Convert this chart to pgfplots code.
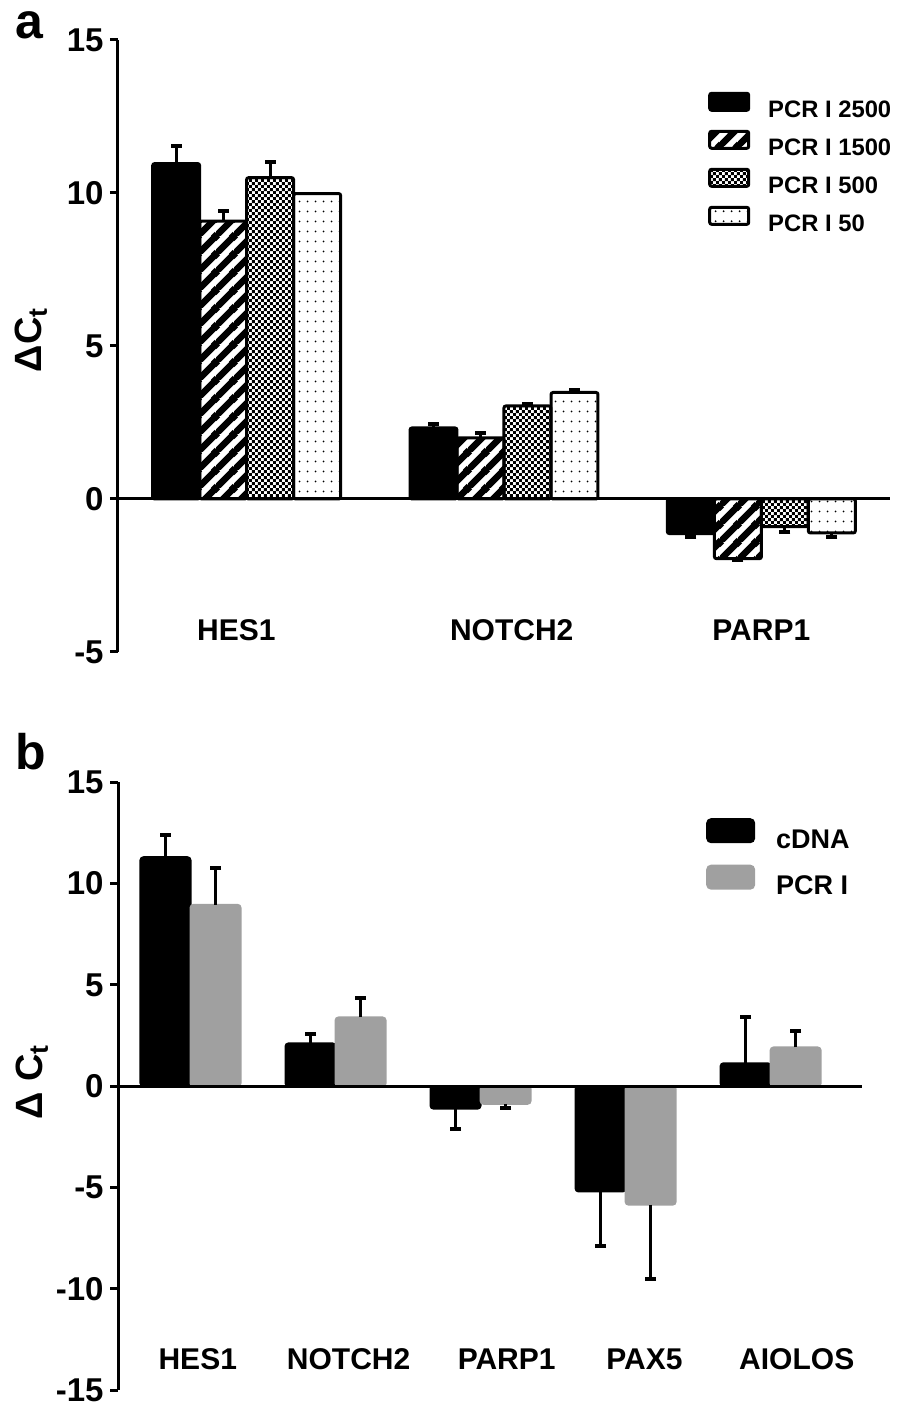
\documentclass[border=0pt]{standalone}
\usepackage{pgfplots}
\pgfplotsset{compat=1.18}
\usepackage{fontspec}
\setmainfont{Liberation Sans}
\usetikzlibrary{patterns}

\pgfdeclarepatternformonly{wstripes}{\pgfqpoint{0pt}{0pt}}{\pgfqpoint{9pt}{9pt}}{\pgfqpoint{9pt}{9pt}}{%
  \pgfsetlinewidth{3.4pt}%
  \pgfpathmoveto{\pgfqpoint{-1pt}{-1pt}}\pgfpathlineto{\pgfqpoint{10pt}{10pt}}%
  \pgfpathmoveto{\pgfqpoint{-1pt}{8pt}}\pgfpathlineto{\pgfqpoint{1pt}{10pt}}%
  \pgfpathmoveto{\pgfqpoint{8pt}{-1pt}}\pgfpathlineto{\pgfqpoint{10pt}{1pt}}%
  \pgfusepath{stroke}}
\pgfdeclarepatternformonly{fchecker}{\pgfqpoint{0pt}{0pt}}{\pgfqpoint{3.2pt}{3.2pt}}{\pgfqpoint{3.2pt}{3.2pt}}{%
  \pgfpathrectangle{\pgfqpoint{0pt}{0pt}}{\pgfqpoint{1.6pt}{1.6pt}}%
  \pgfpathrectangle{\pgfqpoint{1.6pt}{1.6pt}}{\pgfqpoint{1.6pt}{1.6pt}}%
  \pgfusepath{fill}}
\pgfdeclarepatternformonly{sdots}{\pgfqpoint{0pt}{0pt}}{\pgfqpoint{4pt}{5pt}}{\pgfqpoint{4pt}{5pt}}{%
  \pgfpathcircle{\pgfqpoint{2pt}{2.5pt}}{0.55pt}\pgfusepath{fill}}

\definecolor{pcrgray}{RGB}{160,160,160}

\pgfplotsset{
  errl/.style={black, line width=1.5pt, forget plot, mark=-, mark indices={2},
    mark options={solid, black, line width=2pt, mark size=2.75pt}},
  panel/.style={
    scale only axis, clip=false, axis on top,
    axis y line*=left, axis x line*=bottom,
    x axis line style={draw=none}, x tick style={draw=none},
    y axis line style={line width=1.5pt, black},
    y tick style={line width=1.5pt, black},
    tick align=outside, major tick length=4pt,
    /pgf/number format/assume math mode=true,
    yticklabel style={font=\bfseries\fontsize{16.5}{17}\selectfont, inner sep=3pt},
    xticklabel style={font=\bfseries\fontsize{15}{16}\selectfont, anchor=center},
    extra y ticks={0}, extra y tick labels={},
    extra y tick style={grid=major, major grid style={black, line width=1.5pt}, tick style={draw=none}},
    legend cell align=left,
  }
}

\begin{document}
\begin{tikzpicture}
\useasboundingbox (0,0) rectangle (448pt,703pt);

% ---------- panel a ----------
\begin{axis}[panel,
  at={(59pt,377pt)}, anchor=south west, width=386pt, height=306pt,
  xmin=-0.5, xmax=2.5, ymin=-5, ymax=15,
  ytick={-5,0,5,10,15},
  xtick={-0.04,1.03,2.0}, xticklabels={HES1,NOTCH2,PARP1},
  xticklabel style={yshift=15pt},
  ylabel={ΔC\textsubscript{t}},
  ylabel style={at={(axis description cs:-0.1127,0.51)}, anchor=center, font=\bfseries\fontsize{19}{19}\selectfont},
  legend image code/.code={\draw[#1, rounded corners=1pt] (0pt,0.25pt) rectangle (19.5pt,8.75pt);},
  legend style={draw=none, fill=none, at={(axis description cs:0.764,0.916)}, anchor=north west,
    inner sep=0pt, row sep=4.6pt, font=\bfseries\fontsize{11.9}{12}\selectfont,
    nodes={inner sep=0pt}, /tikz/every odd column/.style={column sep=9pt}},
]
\addplot[ybar, bar width=0.1825, bar shift=-0.274, fill=black, draw=black, line width=1.5pt, rounded corners=1pt]
  coordinates {(0,10.96) (1,2.32) (2,-1.13)};
\addlegendentry{PCR I 2500}
\addplot[ybar, bar width=0.1825, bar shift=-0.091, pattern=wstripes, pattern color=black, draw=black, line width=1.5pt, rounded corners=1pt]
  coordinates {(0,9.08) (1,2.00) (2,-1.95)};
\addlegendentry{PCR I 1500}
\addplot[ybar, bar width=0.1825, bar shift=0.091, pattern=fchecker, pattern color=black, draw=black, line width=1.5pt, rounded corners=1pt]
  coordinates {(0,10.50) (1,3.04) (2,-0.90)};
\addlegendentry{PCR I 500}
\addplot[ybar, bar width=0.1825, bar shift=0.274, pattern=sdots, pattern color=black, draw=black, line width=1.5pt, rounded corners=1pt]
  coordinates {(0,9.98) (1,3.48) (2,-1.11)};
\addlegendentry{PCR I 50}
% error bars (bar end -> bar end +/- error)
\addplot[errl] coordinates {(-0.274,10.96) (-0.274,11.52)};
\addplot[errl] coordinates {(0.726,2.32) (0.726,2.46)};
\addplot[errl] coordinates {(1.726,-1.13) (1.726,-1.23)};
\addplot[errl] coordinates {(-0.091,9.08) (-0.091,9.41)};
\addplot[errl] coordinates {(0.909,2.00) (0.909,2.15)};
\addplot[errl] coordinates {(1.909,-1.95) (1.909,-2.00)};
\addplot[errl] coordinates {(0.091,10.50) (0.091,11.00)};
\addplot[errl] coordinates {(1.091,3.04) (1.091,3.11)};
\addplot[errl] coordinates {(2.091,-0.90) (2.091,-1.07)};
\addplot[errl] coordinates {(1.274,3.48) (1.274,3.55)};
\addplot[errl] coordinates {(2.274,-1.11) (2.274,-1.23)};
\end{axis}

% ---------- panel b ----------
\begin{axis}[panel,
  at={(59pt,8pt)}, anchor=south west, width=372pt, height=303.85pt,
  xmin=-0.5, xmax=4.63, ymin=-15, ymax=15,
  ytick={-15,-10,-5,0,5,10,15},
  xtick={0.05,1.09,2.18,3.13,4.18}, xticklabels={HES1,NOTCH2,PARP1,PAX5,AIOLOS},
  xticklabel style={yshift=19.5pt},
  ylabel={Δ C\textsubscript{t}},
  ylabel style={at={(axis description cs:-0.1156,0.507)}, anchor=center, font=\bfseries\fontsize{19}{19}\selectfont},
  legend image code/.code={\draw[#1, rounded corners=2pt] (0pt,-0.9pt) rectangle (23.5pt,10.6pt);},
  legend style={draw=none, fill=none, at={(axis description cs:0.790,0.9416)}, anchor=north west,
    inner sep=0pt, row sep=6.75pt, font=\bfseries\fontsize{13.5}{14}\selectfont,
    nodes={inner sep=0pt}, /tikz/every odd column/.style={column sep=10.5pt}},
]
\addplot[ybar, bar width=0.345, bar shift=-0.1725, fill=black, draw=black, line width=1pt, rounded corners=1.5pt]
  coordinates {(0,11.30) (1,2.11) (2,-1.11) (3,-5.20) (4,1.13)};
\addlegendentry{cDNA}
\addplot[ybar, bar width=0.345, bar shift=0.1725, fill=pcrgray, draw=pcrgray, line width=1pt, rounded corners=1.5pt]
  coordinates {(0,8.95) (1,3.39) (2,-0.87) (3,-5.85) (4,1.91)};
\addlegendentry{PCR I}
\addplot[errl] coordinates {(-0.1725,11.30) (-0.1725,12.38)};
\addplot[errl] coordinates {(0.8275,2.11) (0.8275,2.57)};
\addplot[errl] coordinates {(1.8275,-1.11) (1.8275,-2.11)};
\addplot[errl] coordinates {(2.8275,-5.20) (2.8275,-7.90)};
\addplot[errl] coordinates {(3.8275,1.13) (3.8275,3.42)};
\addplot[errl] coordinates {(0.1725,8.95) (0.1725,10.75)};
\addplot[errl] coordinates {(1.1725,3.39) (1.1725,4.33)};
\addplot[errl] coordinates {(2.1725,-0.87) (2.1725,-1.06)};
\addplot[errl] coordinates {(3.1725,-5.85) (3.1725,-9.50)};
\addplot[errl] coordinates {(4.1725,1.91) (4.1725,2.70)};
\end{axis}

\node[anchor=base west, inner sep=0pt, font=\bfseries\fontsize{25}{25}\selectfont] at (7.5pt,683.5pt) {a};
\node[anchor=base west, inner sep=0pt, font=\bfseries\fontsize{25}{25}\selectfont] at (7.5pt,318pt) {b};
\end{tikzpicture}
\end{document}
